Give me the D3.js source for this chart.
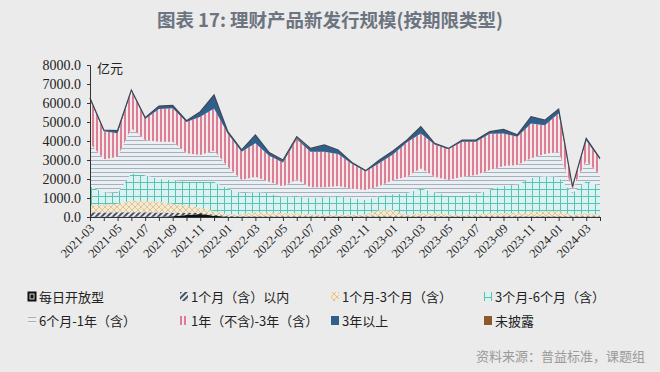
<!DOCTYPE html>
<html>
<head>
<meta charset="utf-8">
<script src="https://cdn.jsdelivr.net/npm/d3@7"></script>
<style>
  body { margin: 0; background: #ebebeb; }
  svg { display: block; }
</style>
</head>
<body>
<div id="chart"></div>
<script>
// months on the category axis
const months = [
  '2021-03','2021-04','2021-05','2021-06','2021-07','2021-08','2021-09','2021-10','2021-11','2021-12',
  '2022-01','2022-02','2022-03','2022-04','2022-05','2022-06','2022-07','2022-08','2022-09','2022-10','2022-11','2022-12',
  '2023-01','2023-02','2023-03','2023-04','2023-05','2023-06','2023-07','2023-08','2023-09','2023-10','2023-11','2023-12',
  '2024-01','2024-02','2024-03','2024-04'
];

// series values (亿元), bottom to top of the stack
const daily   = [15,15,15,15,15,15,40,110,160,70, 15,15,15,15,15,15,15,15,15,15,15,15, 15,15,15,15,15,15,15,15,15,15,15,15, 15,15,15,15];
const m1      = [230,220,230,240,230,220,180,100,60,50, 40,25,25,25,25,25,25,25,25,25,25,25, 25,25,25,25,25,25,25,25,25,25,25,25, 25,25,25,25];
const m1to3   = [355,415,455,595,605,565,480,390,280,180, 95,110,210,210,160,140,110,90,80,60,110,310, 310,80,160,160,110,80,110,160,160,180,210,260, 260,80,160,80];
const m3to6   = [1000,650,550,1450,1350,1200,1250,1250,1350,1550, 1350,1100,1050,1000,850,920,850,920,980,900,750,750, 850,1130,1300,1100,950,980,1050,1250,1450,1480,1800,1850, 1800,1130,1700,1530];
const m6to12  = [2280,1740,1920,2370,1850,1960,2010,1500,1410,1650, 1150,700,820,610,550,880,560,510,530,500,520,530, 750,870,1060,820,850,1020,1010,1020,1030,1040,1040,1170, 1340,230,1050,550];
const y1to3   = [2310,1470,1240,1960,1110,1720,1760,1650,2010,2210, 1730,1490,1760,1370,1270,2110,1870,1870,1690,1300,980,1210, 1350,1820,1830,1690,1610,1840,1750,1910,1710,1490,1830,1510, 2020,90,1080,830];
const y3plus  = [60,60,130,40,60,150,150,60,260,700, 100,80,430,150,100,60,170,350,200,60,30,150, 180,100,350,60,40,80,80,100,210,80,350,260, 210,20,100,50];
const unknown = [10,10,10,10,10,10,10,10,10,10, 10,10,10,10,30,80,10,10,10,10,10,10, 10,10,10,10,10,10,10,10,10,10,10,10, 10,10,10,10];

const seriesNames = ['每日开放型', '1个月（含）以内', '1个月-3个月（含）', '3个月-6个月（含）',
                     '6个月-1年（含）', '1年（不含)-3年（含）', '3年以上', '未披露'];
const yTicks = [0, 1000, 2000, 3000, 4000, 5000, 6000, 7000, 8000];

const width = 660, height = 372;
const plot = { left: 90, right: 600, top: 65, bottom: 217 };

const keys = ['daily', 'm1', 'm1to3', 'm3to6', 'm6to12', 'y1to3', 'y3plus', 'unknown'];
const cols = { daily, m1, m1to3, m3to6, m6to12, y1to3, y3plus, unknown };
const rows = months.map((m, i) => {
  const r = { month: m };
  keys.forEach(k => r[k] = cols[k][i]);
  return r;
});

const svg = d3.select('#chart').append('svg')
  .attr('width', width)
  .attr('height', height);

svg.append('rect').attr('width', width).attr('height', height).attr('fill', '#ebebeb');

// patterns
const defs = svg.append('defs');

let p = defs.append('pattern').attr('id', 'p-m1').attr('patternUnits', 'userSpaceOnUse')
  .attr('width', 4).attr('height', 4).attr('patternTransform', 'rotate(45)');
p.append('rect').attr('width', 4).attr('height', 4).attr('fill', '#e9e9e9');
p.append('line').attr('x1', 1).attr('y1', 0).attr('x2', 1).attr('y2', 4)
  .attr('stroke', '#1d2a44').attr('stroke-width', 1.6);

p = defs.append('pattern').attr('id', 'p-m1to3').attr('patternUnits', 'userSpaceOnUse')
  .attr('width', 6).attr('height', 6);
p.append('rect').attr('width', 6).attr('height', 6).attr('fill', '#f2ead9');
p.append('path').attr('d', 'M0,0L6,6M6,0L0,6')
  .attr('stroke', '#e2c58a').attr('stroke-width', 1);

p = defs.append('pattern').attr('id', 'p-m3to6').attr('patternUnits', 'userSpaceOnUse')
  .attr('width', 7).attr('height', 7);
p.append('rect').attr('width', 7).attr('height', 7).attr('fill', '#dcf1f1');
p.append('path').attr('d', 'M0.5,0V7M0,0.5H7')
  .attr('stroke', '#55c4b2').attr('stroke-width', 1);

p = defs.append('pattern').attr('id', 'p-m6to12').attr('patternUnits', 'userSpaceOnUse')
  .attr('width', 4).attr('height', 4);
p.append('rect').attr('width', 4).attr('height', 4).attr('fill', '#eceff1');
p.append('line').attr('x1', 0).attr('y1', 0.5).attr('x2', 4).attr('y2', 0.5)
  .attr('stroke', '#a3b2c0').attr('stroke-width', 1);

p = defs.append('pattern').attr('id', 'p-y1to3').attr('patternUnits', 'userSpaceOnUse')
  .attr('width', 4).attr('height', 4);
p.append('rect').attr('width', 4).attr('height', 4).attr('fill', '#f1eaec');
p.append('line').attr('x1', 1).attr('y1', 0).attr('x2', 1).attr('y2', 4)
  .attr('stroke', '#d75a78').attr('stroke-width', 1.5);

const fills = {
  daily: '#111111',
  m1: 'url(#p-m1)',
  m1to3: 'url(#p-m1to3)',
  m3to6: 'url(#p-m3to6)',
  m6to12: 'url(#p-m6to12)',
  y1to3: 'url(#p-y1to3)',
  y3plus: '#2f5f8c',
  unknown: '#8b5a2b'
};

// scales
const x = d3.scalePoint().domain(months).range([plot.left, plot.right]);
const y = d3.scaleLinear().domain([0, 8000]).range([plot.bottom, plot.top]);

const stacked = d3.stack().keys(keys)(rows);

const area = d3.area()
  .x(d => x(d.data.month))
  .y0(d => y(d[0]))
  .y1(d => y(d[1]));

svg.append('g').selectAll('path')
  .data(stacked)
  .enter()
  .append('path')
  .attr('d', area)
  .attr('fill', d => fills[d.key]);

// dark outline on top of the stack
const topLine = d3.line()
  .x(d => x(d.data.month))
  .y(d => y(d[1]));
svg.append('path')
  .datum(stacked[stacked.length - 1])
  .attr('d', topLine)
  .attr('fill', 'none')
  .attr('stroke', '#3d4654')
  .attr('stroke-width', 1.2);

// y axis
const yAxis = svg.append('g')
  .attr('transform', `translate(${plot.left},0)`)
  .call(d3.axisLeft(y).tickValues(yTicks).tickSize(3).tickFormat(d3.format('.1f')));
yAxis.select('.domain').attr('stroke', '#333');
yAxis.selectAll('.tick line').attr('stroke', '#333');
yAxis.selectAll('.tick text')
  .attr('x', -9)
  .attr('fill', '#222')
  .style('font-family', '"Liberation Serif", serif')
  .style('font-size', '14px');

svg.append('text')
  .attr('x', 97)
  .attr('y', 73)
  .attr('fill', '#222')
  .style('font-family', '"Noto Sans CJK SC", sans-serif')
  .style('font-size', '13px')
  .text('亿元');

// x axis
const xAxis = svg.append('g')
  .attr('transform', `translate(0,${plot.bottom})`)
  .call(d3.axisBottom(x).tickSize(4).tickSizeOuter(0).tickFormat(''));
xAxis.select('.domain').attr('stroke', '#333');
xAxis.selectAll('.tick line').attr('stroke', '#333');

svg.append('g').selectAll('text')
  .data(months.filter((m, i) => i % 2 === 0))
  .enter()
  .append('text')
  .attr('transform', d => `translate(${x(d) + 2},${plot.bottom + 9}) rotate(-45)`)
  .attr('text-anchor', 'end')
  .attr('dy', '0.35em')
  .attr('fill', '#222')
  .style('font-family', '"Liberation Serif", serif')
  .style('font-size', '12.5px')
  .text(d => d);

// title
svg.append('text')
  .attr('x', 330)
  .attr('y', 27)
  .attr('text-anchor', 'middle')
  .attr('fill', '#6c7480')
  .style('font-family', '"Noto Sans CJK SC", sans-serif')
  .style('font-weight', 'bold')
  .style('font-size', '18.5px')
  .text('图表 17: 理财产品新发行规模(按期限类型)');

// legend
const legendX = [28, 180, 331, 484];
const legendY = [297, 321];
const legend = svg.append('g').selectAll('g')
  .data(keys)
  .enter()
  .append('g')
  .attr('transform', (d, i) => `translate(${legendX[i % 4]},${legendY[Math.floor(i / 4)]})`);

legend.append('rect')
  .attr('x', 0).attr('y', -5)
  .attr('width', 8).attr('height', 9)
  .attr('fill', d => fills[d])
  .attr('stroke', d => d === 'daily' ? '#111' : 'none');
legend.filter(d => d === 'daily').append('rect')
  .attr('x', 2).attr('y', -3).attr('width', 4).attr('height', 5)
  .attr('fill', 'none').attr('stroke', '#fff').attr('stroke-width', 0.8);

legend.append('text')
  .attr('x', 11)
  .attr('dy', '0.35em')
  .attr('fill', '#222')
  .style('font-family', '"Noto Sans CJK SC", sans-serif')
  .style('font-size', '13px')
  .text((d, i) => seriesNames[i]);

// source
svg.append('text')
  .attr('x', 645)
  .attr('y', 361)
  .attr('text-anchor', 'end')
  .attr('fill', '#9a9a9a')
  .style('font-family', '"Noto Sans CJK SC", sans-serif')
  .style('font-size', '13px')
  .text('资料来源：普益标准，课题组');
</script>
</body>
</html>
